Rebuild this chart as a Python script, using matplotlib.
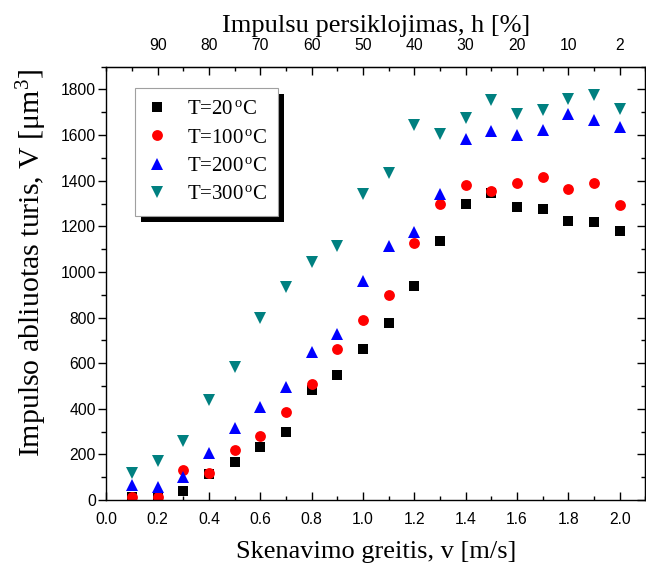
import matplotlib
matplotlib.use('Agg')
import matplotlib.pyplot as plt
from matplotlib.patches import Rectangle
from matplotlib.ticker import MultipleLocator

# Scanning speed, m/s
speed = [0.1, 0.2, 0.3, 0.4, 0.5, 0.6, 0.7, 0.8, 0.9, 1.0,
         1.1, 1.2, 1.3, 1.4, 1.5, 1.6, 1.7, 1.8, 1.9, 2.0]

# Ablated volume per pulse, um^3
vol_20 = [15, 10, 39, 115, 165, 234, 298, 482, 549, 663,
          777, 938, 1135, 1296, 1348, 1285, 1275, 1224, 1217, 1179]
vol_100 = [12, 12, 131, 118, 219, 280, 386, 507, 660, 789,
           900, 1125, 1296, 1383, 1354, 1391, 1418, 1363, 1388, 1293]
vol_200 = [66, 56, 99, 205, 317, 406, 494, 649, 730, 960,
           1115, 1173, 1341, 1585, 1617, 1602, 1624, 1694, 1665, 1636]
vol_300 = [120, 171, 259, 438, 584, 799, 935, 1044, 1115, 1340,
           1436, 1643, 1604, 1673, 1753, 1694, 1712, 1757, 1778, 1713]

# Top axis: pulse overlap, %
overlap_pos = [0.2, 0.4, 0.6, 0.8, 1.0, 1.2, 1.4, 1.6, 1.8, 2.0]
overlap_labels = ['90', '80', '70', '60', '50', '40', '30', '20', '10', '2']

SERIF = 'Liberation Serif'
SANS = 'Liberation Sans'
plt.rcParams['mathtext.fontset'] = 'custom'
plt.rcParams['mathtext.rm'] = SERIF
plt.rcParams['mathtext.it'] = SERIF + ':italic'

fig = plt.figure(figsize=(6.46, 5.69), dpi=100)
ax = fig.add_axes([0.1647, 0.1213, 0.8343, 0.7615])

series = [
    (vol_20, 's', 'black', 7, r'T=20$^{\,\mathrm{o}}$C'),
    (vol_100, 'o', '#ff0000', 7.8, r'T=100$^{\,\mathrm{o}}$C'),
    (vol_200, '^', '#0000ff', 8, r'T=200$^{\,\mathrm{o}}$C'),
    (vol_300, 'v', '#008080', 8, r'T=300$^{\,\mathrm{o}}$C'),
]
for vals, mk, col, ms, lab in series:
    ax.plot(speed, vals, linestyle='none', marker=mk, color=col,
            markersize=ms, markeredgewidth=0, label=lab)

ax.set_xlim(0, 2.1)
ax.set_ylim(0, 1900)
ax.xaxis.set_major_locator(MultipleLocator(0.2))
ax.xaxis.set_minor_locator(MultipleLocator(0.1))
ax.yaxis.set_major_locator(MultipleLocator(200))
ax.yaxis.set_minor_locator(MultipleLocator(100))
ax.set_xticks([0.0, 0.2, 0.4, 0.6, 0.8, 1.0, 1.2, 1.4, 1.6, 1.8, 2.0])
ax.set_xticklabels(['0.0', '0.2', '0.4', '0.6', '0.8', '1.0', '1.2', '1.4', '1.6', '1.8', '2.0'])

for sp in ax.spines.values():
    sp.set_linewidth(1.0)

ax.tick_params(axis='x', which='both', direction='in', width=1.0, pad=9,
               labelsize=11.3, top=False)
ax.tick_params(axis='x', which='major', length=5.5)
ax.tick_params(axis='x', which='minor', length=3)
ax.tick_params(axis='y', which='both', direction='out', width=1.0, pad=2,
               labelsize=11.3, right=False)
ax.tick_params(axis='y', which='major', length=5.5)
ax.tick_params(axis='y', which='minor', length=3.5)
for t in ax.get_xticklabels() + ax.get_yticklabels():
    t.set_fontfamily(SANS)

# top axis
top = ax.secondary_xaxis('top')
top.set_xticks(overlap_pos)
top.set_xticklabels(overlap_labels)
top.xaxis.set_minor_locator(MultipleLocator(0.1))
top.tick_params(axis='x', which='both', direction='in', width=1.0, pad=10,
                labelsize=11.3)
top.tick_params(axis='x', which='major', length=5.5)
top.tick_params(axis='x', which='minor', length=3)
for t in top.get_xticklabels():
    t.set_fontfamily(SANS)
top.set_xlabel('Impulsu persiklojimas, h [%]', fontsize=19, family=SERIF, labelpad=4)

# right axis (ticks only)
right = ax.secondary_yaxis('right')
right.yaxis.set_major_locator(MultipleLocator(200))
right.yaxis.set_minor_locator(MultipleLocator(100))
right.tick_params(axis='y', which='both', direction='in', width=1.0, labelright=False)
right.tick_params(axis='y', which='major', length=5.5)
right.tick_params(axis='y', which='minor', length=3)

ax.set_xlabel('Skenavimo greitis, v [m/s]', fontsize=19, family=SERIF, labelpad=10)
ax.set_ylabel('Impulso abliuotas turis, V [μm$^{3}$]', fontsize=21.5, family=SERIF)
ax.yaxis.set_label_coords(-0.106, 0.547)

leg = ax.legend(loc='upper left', bbox_to_anchor=(0.054, 0.950), borderaxespad=0,
                prop={'family': SERIF, 'size': 15}, fancybox=False, framealpha=1,
                edgecolor='#a0a0a0', handlelength=1.0, handletextpad=0.9,
                labelspacing=0.42, borderpad=0.55, numpoints=1)
leg.get_frame().set_linewidth(0.8)

# hard black drop shadow behind the legend box
fig.canvas.draw()
bb = leg.get_window_extent()
inv = fig.transFigure.inverted()
(x0, y0), (x1, y1) = inv.transform([(bb.x0 + 6, bb.y0 - 6), (bb.x1 + 6, bb.y1 - 6)])
ax.add_patch(Rectangle((x0, y0), x1 - x0, y1 - y0, transform=fig.transFigure,
                       facecolor='black', edgecolor='none', zorder=4.5, clip_on=False))
ax.set_xlim(0, 2.1)
ax.set_ylim(0, 1900)

fig.savefig('out.png', dpi=100)
